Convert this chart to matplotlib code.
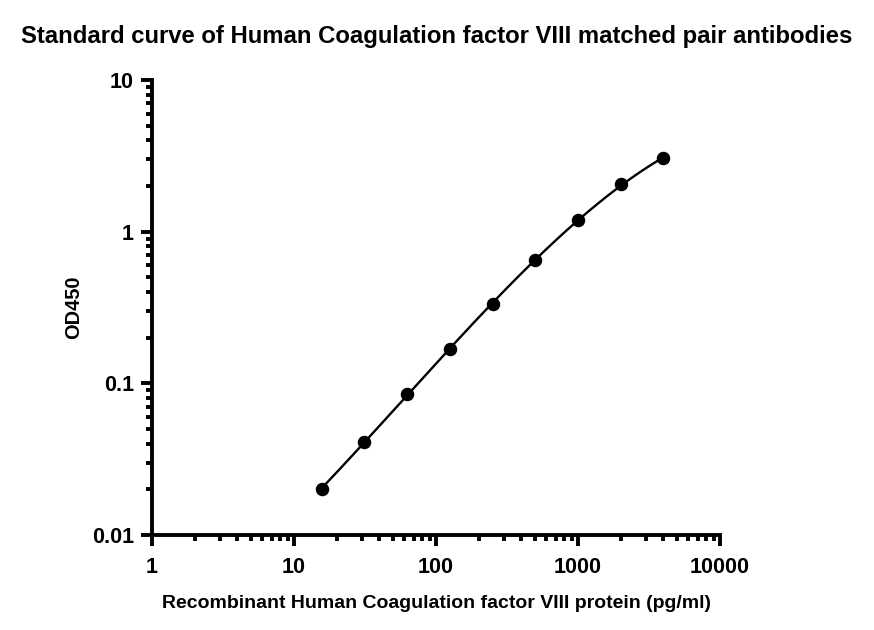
import numpy as np
import matplotlib
matplotlib.use("Agg")
import matplotlib.pyplot as plt
from matplotlib.ticker import LogLocator, FixedLocator, FixedFormatter, NullFormatter

plt.rcParams['font.family'] = ['Liberation Sans', 'DejaVu Sans']

concentration = [15.625, 31.25, 62.5, 125, 250, 500, 1000, 2000, 4000]
od450 = [0.0201, 0.041, 0.085, 0.168, 0.333, 0.65, 1.19, 2.06, 3.05]
x_ticks = [1, 10, 100, 1000, 10000]
x_tick_labels = ["1", "10", "100", "1000", "10000"]
y_ticks = [0.01, 0.1, 1, 10]
y_tick_labels = ["0.01", "0.1", "1", "10"]

fig = plt.figure(figsize=(8.74, 6.30), dpi=100)
ax = fig.add_axes([152/874, 1-535/630, (720-152)/874, (535-80)/630])

lx = np.log10(concentration)
ly = np.log10(od450)
coef = np.polyfit(lx, ly, 3)
xs = np.linspace(lx[0], lx[-1], 300)
ax.plot(10**xs, 10**np.polyval(coef, xs), color='black', lw=1.7, zorder=2)
ax.plot(concentration, od450, 'o', color='black', ms=8.7, zorder=3)

ax.set_xscale('log')
ax.set_yscale('log')
ax.set_xlim(1, 10000)
ax.set_ylim(0.01, 10)

ax.xaxis.set_major_locator(FixedLocator(x_ticks))
ax.xaxis.set_major_formatter(FixedFormatter(x_tick_labels))
ax.yaxis.set_major_locator(FixedLocator(y_ticks))
ax.yaxis.set_major_formatter(FixedFormatter(y_tick_labels))
ax.xaxis.set_minor_locator(LogLocator(base=10, subs=np.arange(2, 10), numticks=20))
ax.yaxis.set_minor_locator(LogLocator(base=10, subs=np.arange(2, 10), numticks=20))
ax.xaxis.set_minor_formatter(NullFormatter())
ax.yaxis.set_minor_formatter(NullFormatter())

for s in ['top', 'right']:
    ax.spines[s].set_visible(False)
for s in ['left', 'bottom']:
    ax.spines[s].set_linewidth(2.8)
    ax.spines[s].set_capstyle('projecting')

ax.tick_params(which='major', length=8, width=2.8, direction='out', labelsize=15.5, pad=5)
ax.tick_params(axis='x', which='major', pad=8)
ax.tick_params(which='minor', length=4.5, width=2.8, direction='out')
for lab in ax.get_xticklabels() + ax.get_yticklabels():
    lab.set_fontweight('bold')

ax.set_xlabel("Recombinant Human Coagulation factor VIII protein (pg/ml)", fontsize=14, fontweight='bold', labelpad=12)
ax.set_ylabel("OD450", fontsize=14.4, fontweight='bold', labelpad=6)
fig.suptitle("Standard curve of Human Coagulation factor VIII matched pair antibodies", fontsize=17.2, fontweight='bold', x=437/874, y=1-36/630, va='center')

fig.savefig("out.png", dpi=100)
